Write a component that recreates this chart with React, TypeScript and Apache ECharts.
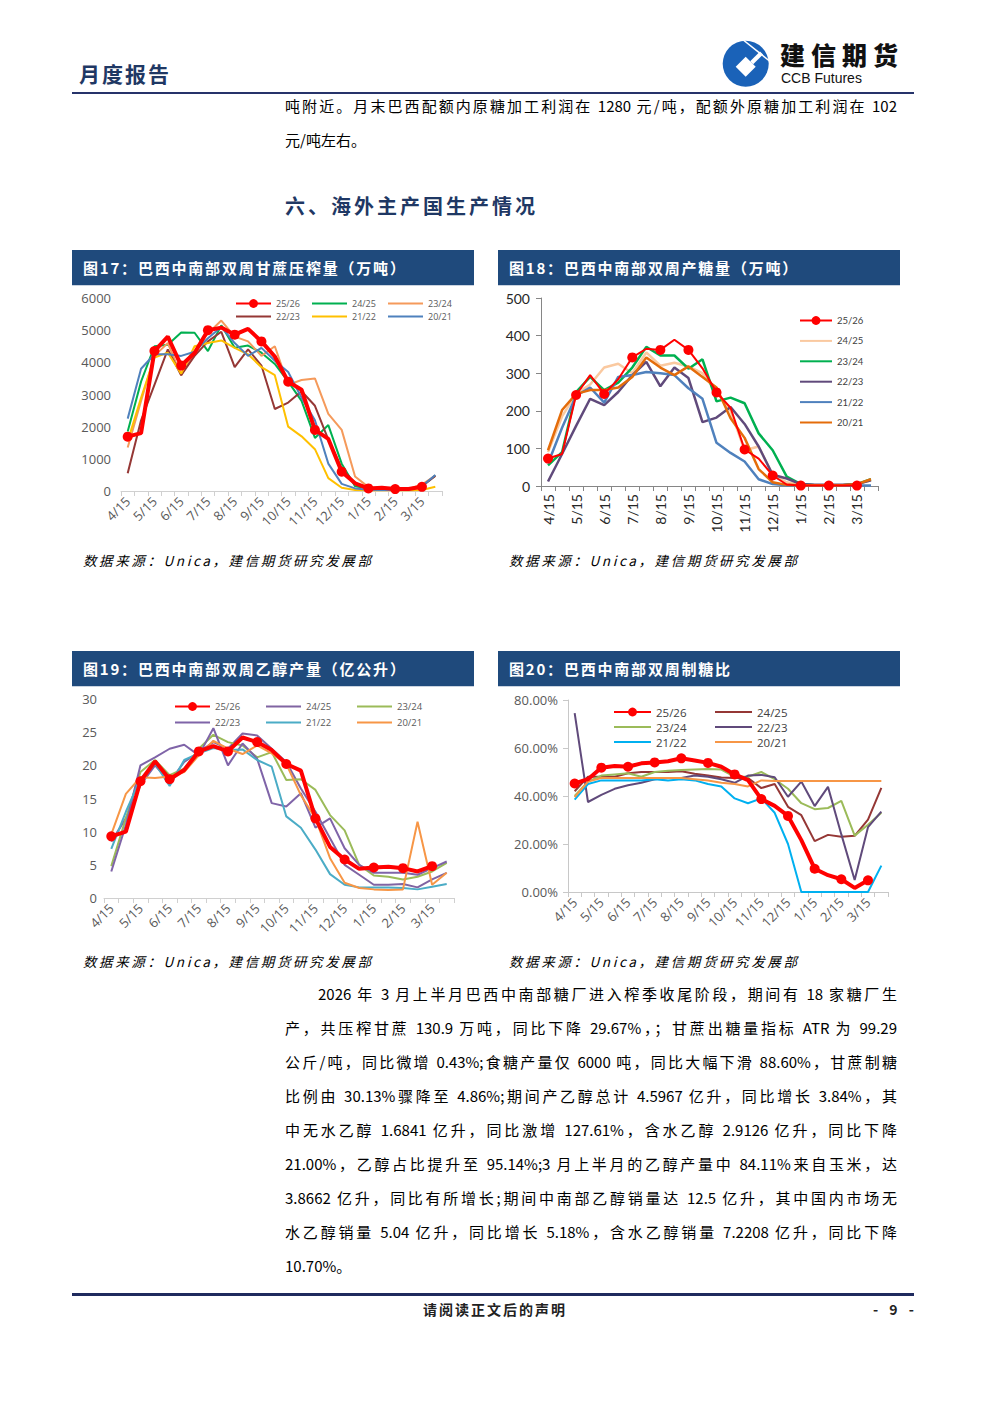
import React, { useEffect, useRef } from "react";
import * as echarts from "echarts";

// ---------- data ----------
const categories = ["4/15","4/30","5/15","5/31","6/15","6/30","7/15","7/31","8/15","8/31","9/15","9/30","10/15","10/31","11/15","11/30","12/15","12/31","1/15","1/31","2/15","2/28","3/15","3/31"];
const seasons = ["25/26", "24/25", "23/24", "22/23", "21/22", "20/21"];

// 图17 甘蔗压榨量（万吨）
const cane2526 = [1690,1800,4350,4800,3900,4290,5000,5080,4860,5040,4650,4180,3400,3150,1900,1620,600,240,80,100,60,60,130,null];
const cane2425 = [1850,3400,4500,4550,4930,4920,4350,5150,4450,4520,4300,3950,3400,2800,1650,2050,850,150,80,60,50,60,150,480];
const cane2324 = [1350,2800,4200,4600,3600,4350,4900,5300,4800,4650,4200,4500,3300,3450,3500,2400,1900,450,120,80,60,60,200,480];
const cane2223 = [550,2200,3300,4400,3600,4200,4650,4950,3850,4400,3900,2550,2750,3100,2650,1600,700,250,80,60,50,60,150,470];
const cane2122 = [1550,2900,4150,4300,3650,4500,4600,4680,4450,4250,3850,3600,2000,1700,1300,400,100,30,20,20,20,20,30,130];
const cane2021 = [2250,3800,4250,4250,4200,4330,4750,5100,4600,4200,4450,4050,3700,2900,2200,850,220,80,40,30,30,40,150,500];

// 图18 产糖量（万吨）
const sugar2526 = [73,85,242,295,245,284,342,365,362,389,362,313,249,208,97,73,28,4,1,1,1,1,1,null];
const sugar2425 = [90,185,245,270,315,325,300,355,320,328,318,300,250,200,95,105,30,10,3,2,2,2,5,15];
const sugar2324 = [55,90,250,290,255,275,315,370,347,347,312,337,225,235,220,140,95,25,5,2,2,2,5,18];
const sugar2223 = [12,85,160,232,215,250,295,330,265,315,287,170,182,210,165,105,30,20,5,3,3,3,5,15];
const sugar2122 = [60,155,240,262,222,290,295,303,300,295,260,232,115,88,65,18,5,2,1,1,1,1,1,1];
const sugar2021 = [95,202,245,255,255,262,290,342,315,295,318,290,262,180,128,45,10,3,2,2,2,2,5,18];

// 图19 乙醇产量（亿公升）
const eth2526 = [9.3,10.0,17.6,20.6,17.9,19.3,22.1,22.9,22.1,24.2,23.5,22.3,20.2,19.2,12.0,7.7,5.8,4.4,4.6,4.7,4.5,4.0,4.8,null];
const eth2425 = [8.5,12,17,20,17.5,20.5,22,23.5,22.5,24.8,24.5,22.5,20.5,16.5,13,9,5,3.5,2,2,2.1,1.6,2.8,3.8];
const eth2324 = [4.8,12,19,20.8,18.5,19.5,22.5,24.6,23.5,23,21.2,22,17.8,17.9,16.3,12.5,10.2,5,3.4,3.2,2.8,3.2,4,5.3];
const eth2223 = [4,11,20,21.2,22.5,23.1,21.5,25.6,20,23.3,21,14.3,13.8,15.8,10.6,12,7.5,5,3.8,3.8,3.8,3.5,4.5,5.5];
const eth2122 = [7.4,13,18,20.3,16.9,20.8,21.8,22.6,22.3,22.4,20.8,19.8,12.3,10.6,7.3,3.6,2,1.6,1.6,1.6,1.5,1.3,1.7,2.1];
const eth2021 = [9.6,15.7,18.2,18.1,18.3,19,21.5,23.7,22.5,21.7,23,21.8,20.2,15.5,12,6,2.3,1.5,1.3,1.2,1.3,11.5,2,3.8];

// 图20 制糖比（%）
const ratio2526 = [45.2,47.0,51.8,52.5,52.2,53.6,54.0,54.5,55.7,54.8,53.8,52.2,49.0,46.6,38.7,35.9,31.7,21.6,9.7,7.0,5.3,1.7,4.86,null];
const ratio2425 = [42,48,48,48,49.5,50,50,50,50.3,49.3,48.5,47.7,47.5,47.5,43.3,45,35.5,32,21.2,23.8,23,23.4,30.13,43.4];
const ratio2324 = [40,46,48.5,49,49.5,48,50,50.5,50.8,51,51.2,51,48,48,50,47,43,37,34.5,35,38,23.5,28,33];
const ratio2223 = [74.5,37.5,40.5,43,44.5,45.5,47,47.5,47.5,48.5,48,47,45.5,48.5,48.8,47.8,39.7,46,35.8,43.8,24,5,27,33.5];
const ratio2122 = [38.5,45,46.5,46.5,46.5,46.5,47,46.5,47,46.5,45,44,39,37,39,33,20,0,0,0,0,0,0,11];
const ratio2021 = [39.5,46,47.5,47.5,47.5,47.5,47.5,47.5,47.5,47,46.5,45.5,45,44,46.5,46.3,46.3,46.3,46.3,46.3,46.3,46.3,46.3,46.3];

// texts
const topLines = [
  "吨附近。月末巴西配额内原糖加工利润在 1280 元/吨，配额外原糖加工利润在 102",
  "元/吨左右。",
];
const bodyLines = [
  "2026 年 3 月上半月巴西中南部糖厂进入榨季收尾阶段，期间有 18 家糖厂生",
  "产，共压榨甘蔗 130.9 万吨，同比下降 29.67%，；甘蔗出糖量指标 ATR 为 99.29",
  "公斤/吨，同比微增 0.43%;食糖产量仅 6000 吨，同比大幅下滑 88.60%，甘蔗制糖",
  "比例由 30.13%骤降至 4.86%;期间产乙醇总计 4.5967 亿升，同比增长 3.84%，其",
  "中无水乙醇 1.6841 亿升，同比激增 127.61%，含水乙醇 2.9126 亿升，同比下降",
  "21.00%，乙醇占比提升至 95.14%;3 月上半月的乙醇产量中 84.11%来自玉米，达",
  "3.8662 亿升，同比有所增长;期间中南部乙醇销量达 12.5 亿升，其中国内市场无",
  "水乙醇销量 5.04 亿升，同比增长 5.18%，含水乙醇销量 7.2208 亿升，同比下降",
  "10.70%。",
];
const figTitles = [
  "图17：巴西中南部双周甘蔗压榨量（万吨）",
  "图18：巴西中南部双周产糖量（万吨）",
  "图19：巴西中南部双周乙醇产量（亿公升）",
  "图20：巴西中南部双周制糖比",
];
const sourceText = "数据来源：Unica，建信期货研究发展部";

// ---------- helpers ----------
const CJK = '"Noto Sans CJK SC", "Noto Sans", sans-serif';
const OPEN = '"Open Sans", "Noto Sans", sans-serif';
const LATO = 'Lato, "Noto Sans", sans-serif';

function sname(s: string, k: string) {
  return s + "#" + k;
}
function strip(n: string) {
  return n.split("#")[0];
}

function lineSeries(name: string, data: any[], color: string, width: number, idx: number, marker: boolean) {
  return {
    type: "line",
    name,
    data,
    xAxisIndex: idx,
    yAxisIndex: idx,
    symbol: marker ? "circle" : "none",
    symbolSize: marker ? 10 : 0,
    showSymbol: marker,
    lineStyle: { color, width },
    itemStyle: { color },
    silent: true,
    z: marker ? 4 : 2,
  };
}

function makeX(gridIndex: number, rotate: number, fontSize: number, color: string, family: string, axisColor: string, margin: number) {
  return {
    type: "category",
    gridIndex,
    data: categories,
    boundaryGap: true,
    axisLine: { show: true, lineStyle: { color: axisColor, width: 1 } },
    axisTick: { show: true, interval: 0, length: 5, lineStyle: { color: axisColor } },
    axisLabel: { interval: 1, rotate, fontSize, color, fontFamily: family, margin },
    splitLine: { show: false },
  };
}

function makeY(gridIndex: number, max: number, interval: number, showLine: boolean, axisColor: string, fontSize: number, color: string, family: string, margin: number, formatter: any) {
  return {
    type: "value",
    gridIndex,
    min: 0,
    max,
    interval,
    axisLine: { show: showLine, lineStyle: { color: axisColor, width: 1 } },
    axisTick: { show: showLine, length: 5, lineStyle: { color: axisColor } },
    axisLabel: { fontSize, color, fontFamily: family, margin, formatter },
    splitLine: { show: false },
  };
}

// legend entries: only the 25/26 series shows a marker in the legend
function legendItems(k: string, idx: number[]) {
  return idx.map((i) =>
    i === 0
      ? { name: sname(seasons[i], k) }
      : { name: sname(seasons[i], k), itemStyle: { opacity: 0, color: "rgba(0,0,0,0)", borderWidth: 0 } }
  );
}

function legendRow(items: any[], left: number, top: number, itemWidth: number, itemHeight: number, fontSize: number, textW: number, lineH: number, color: string, family: string) {
  return {
    left,
    top,
    orient: "horizontal",
    itemWidth,
    itemHeight,
    itemGap: 5,
    selectedMode: false,
    data: items,
    formatter: strip,
    textStyle: { fontSize, color, width: textW, lineHeight: lineH, fontFamily: family },
  };
}

const c17 = ["#FF0000", "#00B050", "#F59A5B", "#953735", "#FFC000", "#4F81BD"];
const c18 = ["#FF0000", "#FAC9A0", "#00B050", "#604A7B", "#4F81BD", "#E46C0A"];
const c19 = ["#FF0000", "#8064A2", "#9BBB59", "#7F64A8", "#4BACC6", "#F79646"];
const c20 = ["#FF0000", "#953735", "#9BBB59", "#604A7B", "#00B0F0", "#F79646"];

function buildOption() {
  const d17 = [cane2526, cane2425, cane2324, cane2223, cane2122, cane2021];
  const d18 = [sugar2526, sugar2425, sugar2324, sugar2223, sugar2122, sugar2021];
  const d19 = [eth2526, eth2425, eth2324, eth2223, eth2122, eth2021];
  const d20 = [ratio2526, ratio2425, ratio2324, ratio2223, ratio2122, ratio2021];

  const series: any[] = [];
  seasons.forEach((s, i) => {
    series.push(lineSeries(sname(s, "a"), d17[i], c17[i], i === 0 ? 4 : 2, 0, i === 0));
  });
  seasons.forEach((s, i) => {
    series.push(lineSeries(sname(s, "b"), d18[i], c18[i], i === 0 ? 2 : 2.5, 1, i === 0));
  });
  seasons.forEach((s, i) => {
    series.push(lineSeries(sname(s, "c"), d19[i], c19[i], i === 0 ? 4 : 2, 2, i === 0));
  });
  seasons.forEach((s, i) => {
    series.push(lineSeries(sname(s, "d"), d20[i], c20[i], i === 0 ? 4 : 2, 3, i === 0));
  });

  return {
    animation: false,
    backgroundColor: "transparent",
    grid: [
      { left: 121, top: 298, width: 321, height: 193, outerBoundsMode: "none" },
      { left: 541, top: 298, width: 337, height: 188, outerBoundsMode: "none" },
      { left: 104, top: 699, width: 350, height: 199, outerBoundsMode: "none" },
      { left: 568, top: 700, width: 320, height: 192, outerBoundsMode: "none" },
    ],
    xAxis: [
      makeX(0, 45, 13, "#595959", OPEN, "#d0d0d0", 8),
      makeX(1, 90, 14, "#262626", LATO, "#868686", 8),
      makeX(2, 45, 13, "#595959", OPEN, "#d0d0d0", 8),
      makeX(3, 45, 13, "#595959", OPEN, "#c8c8c8", 8),
    ],
    yAxis: [
      makeY(0, 6000, 1000, false, "#d0d0d0", 13, "#595959", OPEN, 10, (v: number) => String(v)),
      makeY(1, 500, 100, true, "#868686", 14, "#262626", LATO, 11, (v: number) => String(v)),
      makeY(2, 30, 5, false, "#d0d0d0", 13, "#595959", OPEN, 7, (v: number) => String(v)),
      makeY(3, 80, 20, true, "#c8c8c8", 13, "#595959", OPEN, 10, (v: number) => v.toFixed(2) + "%"),
    ],
    legend: [
      legendRow(legendItems("a", [0, 1, 2]), 230, 293, 35, 11, 9, 30, 11, "#595959", OPEN),
      legendRow(legendItems("a", [3, 4, 5]), 230, 306, 35, 11, 9, 30, 11, "#595959", OPEN),
      {
        left: 794,
        top: 310,
        orient: "vertical",
        itemWidth: 32,
        itemHeight: 11,
        itemGap: 9.4,
        selectedMode: false,
        data: legendItems("b", [0, 1, 2, 3, 4, 5]),
        formatter: strip,
        textStyle: { fontSize: 9.5, color: "#404040", lineHeight: 11, fontFamily: LATO },
      },
      legendRow(legendItems("c", [0, 1, 2]), 169, 696, 35, 11, 9.5, 45, 11, "#595959", OPEN),
      legendRow(legendItems("c", [3, 4, 5]), 169, 712, 35, 11, 9.5, 45, 11, "#595959", OPEN),
      legendRow(legendItems("d", [0, 1]), 608, 701, 37, 11, 11.5, 53, 11, "#404040", OPEN),
      legendRow(legendItems("d", [2, 3]), 608, 716, 37, 11, 11.5, 53, 11, "#404040", OPEN),
      legendRow(legendItems("d", [4, 5]), 608, 731, 37, 11, 11.5, 53, 11, "#404040", OPEN),
    ],
    series,
  };
}

const NAVY = "#1f3864";
const BAR = "#1f4a7c";

function TitleBar({ x, y, text }: { x: number; y: number; text: string }) {
  return (
    <div
      style={{
        position: "absolute",
        left: x,
        top: y,
        width: 402,
        height: 35,
        background: BAR,
        color: "#fff",
        fontSize: 15,
        fontWeight: 700,
        lineHeight: "35px",
        paddingLeft: 11,
        boxSizing: "border-box",
        letterSpacing: 1.8,
        fontFamily: CJK,
        whiteSpace: "nowrap",
        boxShadow: "0 1px 0 #c9d3e0",
      }}
    >
      {text}
    </div>
  );
}

function Source({ x, y }: { x: number; y: number }) {
  return (
    <div
      style={{
        position: "absolute",
        left: x,
        top: y,
        fontSize: 13.5,
        fontStyle: "italic",
        letterSpacing: 2.6,
        lineHeight: "18px",
        color: "#000",
        fontFamily: CJK,
        whiteSpace: "nowrap",
      }}
    >
      {sourceText}
    </div>
  );
}

function Para({ lines, top, indentFirst, lastLeft }: { lines: string[]; top: number; indentFirst: boolean; lastLeft: boolean }) {
  return (
    <div style={{ position: "absolute", left: 285, top, width: 612, fontFamily: CJK, fontSize: 15, color: "#000" }}>
      {lines.map((l, i) => {
        const isLast = i === lines.length - 1;
        return (
          <div
            key={i}
            style={{
              height: 34,
              lineHeight: "34px",
              textAlign: "justify",
              textAlignLast: isLast && lastLeft ? "left" : "justify",
              paddingLeft: i === 0 && indentFirst ? 33 : 0,
              whiteSpace: "nowrap",
              overflow: "visible",
            }}
          >
            {l}
          </div>
        );
      })}
    </div>
  );
}

export default function App() {
  const ref = useRef<HTMLDivElement>(null);
  useEffect(() => {
    const chart = echarts.init(ref.current as HTMLDivElement, null, { renderer: "svg" });
    chart.setOption(buildOption() as any);
    return () => chart.dispose();
  }, []);

  const LOGO = "#1a62b8";
  return (
    <div style={{ position: "absolute", left: 0, top: 0, width: 992, height: 1403, background: "#fff", overflow: "hidden", fontFamily: CJK }}>
      <div ref={ref} style={{ position: "absolute", left: 0, top: 0, width: 992, height: 1403 }} />

      {/* header */}
      <div style={{ position: "absolute", left: 79, top: 60, fontSize: 21, fontWeight: 700, color: NAVY, letterSpacing: 2, lineHeight: "26px" }}>月度报告</div>
      <svg style={{ position: "absolute", left: 718, top: 36 }} width={56} height={56} viewBox="0 0 56 56">
        <circle cx={27.7} cy={27.7} r={23} fill={LOGO} />
        <polygon points="27.7,20.7 37.7,30.7 27.7,40.7 17.7,30.7" fill="#fff" />
        <polygon points="32.2,25.2 35.2,28.2 45,18.5 42,15.5" fill="#fff" />
        <line x1={24} y1={3} x2={54} y2={27} stroke="#fff" strokeWidth={1.6} />
      </svg>
      <div style={{ position: "absolute", left: 780, top: 41, fontSize: 25, fontWeight: 900, color: "#111", letterSpacing: 6, lineHeight: "26px", whiteSpace: "nowrap" }}>建信期货</div>
      <div style={{ position: "absolute", left: 781, top: 71, fontSize: 14, color: "#111", fontFamily: '"Liberation Sans", Arial, sans-serif', lineHeight: "15px", whiteSpace: "nowrap" }}>CCB Futures</div>
      <div style={{ position: "absolute", left: 72, top: 92, width: 842, height: 2, background: "#26336a" }} />

      <Para lines={topLines} top={89} indentFirst={false} lastLeft={true} />

      <div style={{ position: "absolute", left: 285, top: 193, fontSize: 20, fontWeight: 700, color: NAVY, letterSpacing: 3, lineHeight: "26px", whiteSpace: "nowrap" }}>六、海外主产国生产情况</div>

      <TitleBar x={72} y={250} text={figTitles[0]} />
      <TitleBar x={498} y={250} text={figTitles[1]} />
      <TitleBar x={72} y={651} text={figTitles[2]} />
      <TitleBar x={498} y={651} text={figTitles[3]} />

      <Source x={83} y={551} />
      <Source x={509} y={551} />
      <Source x={83} y={952} />
      <Source x={509} y={952} />

      <Para lines={bodyLines} top={977} indentFirst={true} lastLeft={true} />

      {/* footer */}
      <div style={{ position: "absolute", left: 72, top: 1293, width: 842, height: 3, background: "#1f2a5e" }} />
      <div style={{ position: "absolute", left: 423, top: 1300, fontSize: 14, fontWeight: 700, color: "#222", letterSpacing: 2, lineHeight: "18px", whiteSpace: "nowrap" }}>请阅读正文后的声明</div>
      <div style={{ position: "absolute", left: 873, top: 1300, fontSize: 14, fontWeight: 700, color: "#222", letterSpacing: 4, lineHeight: "18px", whiteSpace: "nowrap" }}>- 9 -</div>
    </div>
  );
}
